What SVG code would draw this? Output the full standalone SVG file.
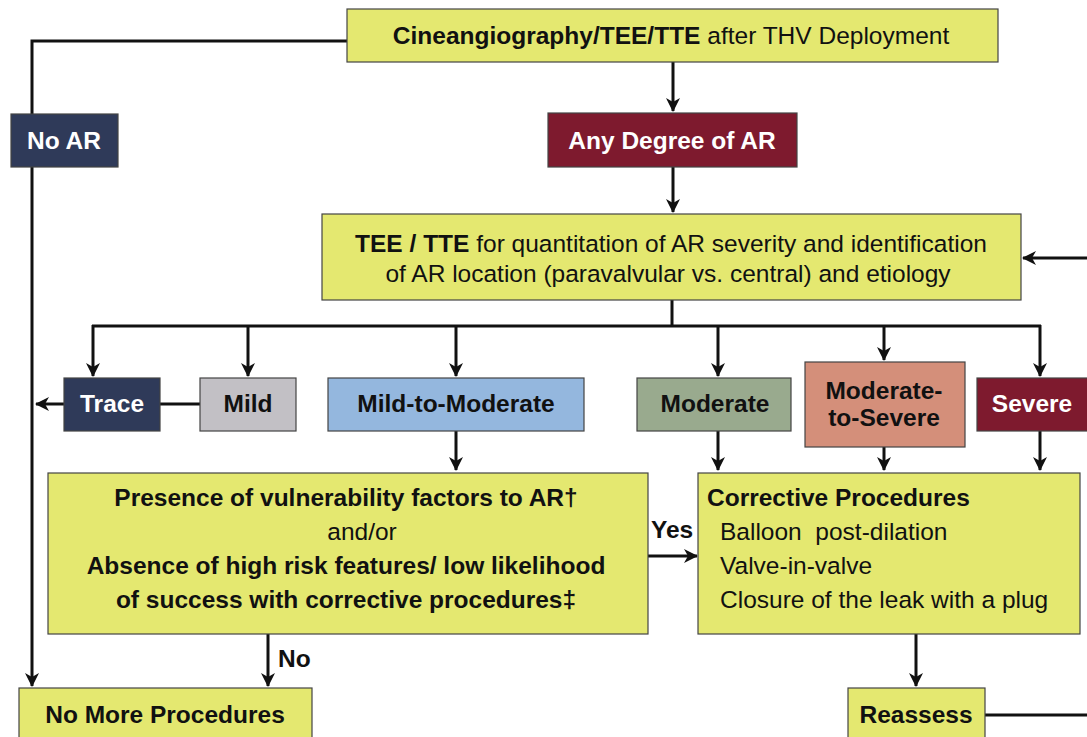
<svg xmlns="http://www.w3.org/2000/svg" width="1087" height="737" viewBox="0 0 1087 737">
<defs>
<marker id="ah" markerUnits="userSpaceOnUse" markerWidth="14" markerHeight="14" viewBox="0 0 14 14" refX="13" refY="7" orient="auto">
<path d="M0,0 L14,7 L0,14 L4,7 Z" fill="#111"/>
</marker>
<style>
.box{stroke:#444;stroke-width:1.2}
.yel{fill:#e4e870}
.navy{fill:#2f3a59}
.crim{fill:#7e1a2e}
.gry{fill:#c2c0c5}
.blu{fill:#94b7de}
.sage{fill:#99aa8e}
.salm{fill:#d48f7a}
text{font-family:"Liberation Sans",Arial,sans-serif;font-size:24.5px;fill:#111}
.b{font-weight:bold}
.w{fill:#fff;font-weight:bold}
.c{text-anchor:middle}
.pre{white-space:pre}
.ln{fill:none;stroke:#111;stroke-width:3}
</style>
</defs>

<g id="connectors">
<polyline class="ln" points="347,41 32,41 32,114"/>
<line class="ln" x1="32" y1="167" x2="32" y2="686" marker-end="url(#ah)"/>
<line class="ln" x1="673" y1="62" x2="673" y2="111" marker-end="url(#ah)"/>
<line class="ln" x1="673" y1="167" x2="673" y2="212" marker-end="url(#ah)"/>
<line class="ln" x1="1087" y1="258" x2="1023" y2="258" marker-end="url(#ah)"/>
<line class="ln" x1="672" y1="300" x2="672" y2="326"/>
<line class="ln" x1="92" y1="326" x2="1041" y2="326"/>
<line class="ln" x1="93" y1="325" x2="93" y2="376" marker-end="url(#ah)"/>
<line class="ln" x1="248" y1="325" x2="248" y2="376" marker-end="url(#ah)"/>
<line class="ln" x1="456" y1="325" x2="456" y2="376" marker-end="url(#ah)"/>
<line class="ln" x1="718" y1="325" x2="718" y2="376" marker-end="url(#ah)"/>
<line class="ln" x1="884" y1="325" x2="884" y2="360" marker-end="url(#ah)"/>
<line class="ln" x1="1040" y1="325" x2="1040" y2="376" marker-end="url(#ah)"/>
<line class="ln" x1="160" y1="404" x2="200" y2="404"/>
<line class="ln" x1="64" y1="404" x2="36" y2="404" marker-end="url(#ah)"/>
<line class="ln" x1="456" y1="431" x2="456" y2="470" marker-end="url(#ah)"/>
<line class="ln" x1="718" y1="431" x2="718" y2="470" marker-end="url(#ah)"/>
<line class="ln" x1="884" y1="447" x2="884" y2="470" marker-end="url(#ah)"/>
<line class="ln" x1="1040" y1="431" x2="1040" y2="470" marker-end="url(#ah)"/>
<line class="ln" x1="648" y1="556" x2="697" y2="556" marker-end="url(#ah)"/>
<line class="ln" x1="268" y1="634" x2="268" y2="686" marker-end="url(#ah)"/>
<line class="ln" x1="916" y1="634" x2="916" y2="686" marker-end="url(#ah)"/>
<line class="ln" x1="985" y1="715" x2="1087" y2="715"/>
<text class="b" x="651" y="538">Yes</text>
<text class="b" x="278" y="667">No</text>
</g>

<g id="n-top">
<rect class="box yel" x="347" y="9" width="651" height="53"/>
<text class="c" x="671" y="44"><tspan class="b">Cineangiography/TEE/TTE</tspan> after THV Deployment</text>
</g>
<g id="n-noar">
<rect class="box navy" x="11" y="114" width="107" height="53"/>
<text class="w c" x="64" y="149">No AR</text>
</g>
<g id="n-any">
<rect class="box crim" x="548" y="113" width="249" height="54"/>
<text class="w c" x="672" y="149">Any Degree of AR</text>
</g>
<g id="n-tee">
<rect class="box yel" x="322" y="214" width="699" height="86"/>
<text class="c" x="671" y="252"><tspan class="b">TEE / TTE</tspan> for quantitation of AR severity and identification</text>
<text class="c" x="668" y="282">of AR location (paravalvular vs. central) and etiology</text>
</g>
<g id="n-trace">
<rect class="box navy" x="64" y="378" width="96" height="53"/>
<text class="w c" x="112" y="412">Trace</text>
</g>
<g id="n-mild">
<rect class="box gry" x="200" y="378" width="96" height="53"/>
<text class="b c" x="248" y="412">Mild</text>
</g>
<g id="n-mtm">
<rect class="box blu" x="328" y="378" width="256" height="53"/>
<text class="b c" x="456" y="412">Mild-to-Moderate</text>
</g>
<g id="n-mod">
<rect class="box sage" x="637" y="378" width="154" height="53"/>
<text class="b c" x="715" y="412">Moderate</text>
</g>
<g id="n-mts">
<rect class="box salm" x="805" y="362" width="160" height="85"/>
<text class="b c" x="884" y="399">Moderate-</text>
<text class="b c" x="884" y="426">to-Severe</text>
</g>
<g id="n-severe">
<rect class="box crim" x="977" y="378" width="114" height="53"/>
<text class="w c" x="1032" y="412">Severe</text>
</g>
<g id="n-presence">
<rect class="box yel" x="48" y="473" width="600" height="161"/>
<text class="b c" x="346" y="506">Presence of vulnerability factors to AR†</text>
<text class="c" x="362" y="540">and/or</text>
<text class="b c" x="346" y="574">Absence of high risk features/ low likelihood</text>
<text class="b c" x="346" y="608">of success with corrective procedures‡</text>
</g>
<g id="n-corr">
<rect class="box yel" x="698" y="473" width="382" height="161"/>
<text class="b" x="707" y="506">Corrective Procedures</text>
<text class="pre" x="720" y="540">Balloon  post-dilation</text>
<text x="720" y="574">Valve-in-valve</text>
<text x="720" y="608">Closure of the leak with a plug</text>
</g>
<g id="n-nomore">
<rect class="box yel" x="19" y="688" width="293" height="60"/>
<text class="b c" x="165" y="723">No More Procedures</text>
</g>
<g id="n-reassess">
<rect class="box yel" x="848" y="688" width="137" height="60"/>
<text class="b c" x="916" y="723">Reassess</text>
</g>
</svg>
